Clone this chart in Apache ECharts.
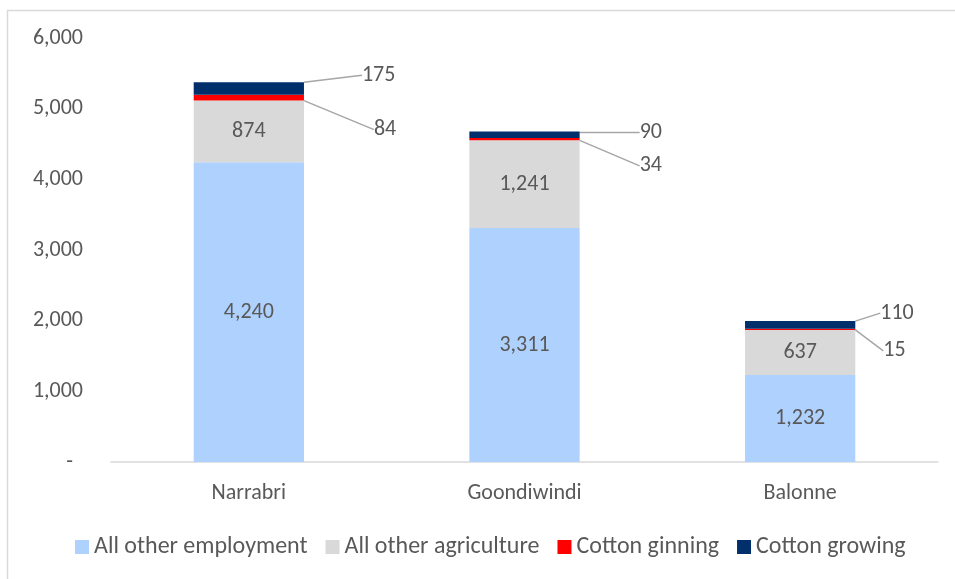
<!DOCTYPE html>
<html>
<head>
<meta charset="utf-8">
<script src="https://cdn.jsdelivr.net/npm/echarts@6/dist/echarts.min.js"></script>
<style>
html,body{margin:0;padding:0;background:#fff;}
#chart{width:955px;height:579px;}
</style>
</head>
<body>
<div id="chart"></div>
<script>
const categories = ['Narrabri', 'Goondiwindi', 'Balonne'];
const otherEmployment = [4240, 3311, 1232];
const otherAgriculture = [874, 1241, 637];
const cottonGinning = [84, 34, 15];
const cottonGrowing = [175, 90, 110];
const yTicks = [0, 1000, 2000, 3000, 4000, 5000, 6000];

const FONT = 'Carlito, "Liberation Sans Narrow", "Liberation Sans", sans-serif';
const TXT = '#595959';
const fmt = v => Number(v).toLocaleString('en-US');

// label placement offsets (layout config)
const growDx = [58, 60, 25];
const growDy = [-7, 1, -8];
const ginDx = [70, 60, 28];
const ginDy = [35, 28, 22];

const chart = echarts.init(document.getElementById('chart'), null, {renderer: 'canvas'});

const innerLabel = {
  show: true, position: 'inside', color: TXT, fontSize: 22, fontFamily: FONT,
  formatter: p => fmt(p.value)
};

const sideLabel = {
  show: true, color: TXT, fontSize: 22, fontFamily: FONT,
  formatter: p => fmt(p.value)
};
const leader = {show: true, lineStyle: {color: '#A6A6A6', width: 1.5}};

chart.setOption({
  animation: false,
  backgroundColor: '#fff',
  graphic: [{
    type: 'rect', left: 5, top: 8, silent: true,
    shape: {width: 1000, height: 1000},
    style: {fill: 'none', stroke: '#D9D9D9', lineWidth: 1.5}
  }],
  grid: {left: 111, right: 17, top: 38, bottom: 117},
  legend: {
    bottom: 15, left: 70, itemWidth: 14, itemHeight: 14, itemGap: 18,
    icon: 'rect',
    textStyle: {color: TXT, fontSize: 24, fontFamily: FONT},
    data: ['All other employment', 'All other agriculture', 'Cotton ginning', 'Cotton growing']
  },
  xAxis: {
    type: 'category', data: categories,
    axisLine: {lineStyle: {color: '#D9D9D9', width: 1.5}},
    axisTick: {show: false},
    axisLabel: {color: TXT, fontSize: 22, fontFamily: FONT, margin: 20}
  },
  yAxis: {
    type: 'value', min: 0, max: 6000, interval: 1000,
    axisLine: {show: false}, axisTick: {show: false},
    splitLine: {show: false},
    axisLabel: {
      color: TXT, fontSize: 22, fontFamily: FONT, margin: 28,
      formatter: v => (yTicks.includes(v) && v === 0) ? '-  ' : fmt(v)
    }
  },
  series: [
    {name: 'All other employment', type: 'bar', stack: 's', barWidth: '40%',
     itemStyle: {color: '#AFD1FE'}, data: otherEmployment, label: innerLabel},
    {name: 'All other agriculture', type: 'bar', stack: 's',
     itemStyle: {color: '#D9D9D9'}, data: otherAgriculture, label: innerLabel},
    {name: 'Cotton ginning', type: 'bar', stack: 's',
     itemStyle: {color: '#FF0000'}, data: cottonGinning,
     label: sideLabel, labelLine: leader,
     labelLayout: p => ({x: p.rect.x + p.rect.width + ginDx[p.dataIndex], y: p.rect.y + ginDy[p.dataIndex], align: 'left', verticalAlign: 'middle'})},
    {name: 'Cotton growing', type: 'bar', stack: 's',
     itemStyle: {color: '#002F6C'}, data: cottonGrowing,
     label: sideLabel, labelLine: leader,
     labelLayout: p => ({x: p.rect.x + p.rect.width + growDx[p.dataIndex], y: p.rect.y + growDy[p.dataIndex], align: 'left', verticalAlign: 'middle'})}
  ]
});
</script>
</body>
</html>
